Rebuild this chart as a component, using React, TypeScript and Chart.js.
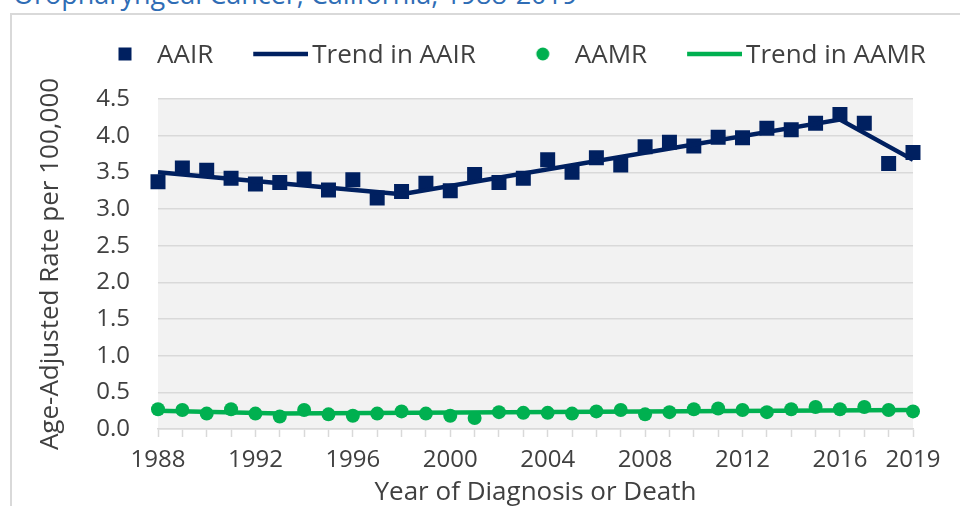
import React, { useEffect, useRef } from 'react';
import { Chart, registerables } from 'chart.js';

Chart.register(...registerables);

const years = [
  '1988', '1989', '1990', '1991', '1992', '1993', '1994', '1995',
  '1996', '1997', '1998', '1999', '2000', '2001', '2002', '2003',
  '2004', '2005', '2006', '2007', '2008', '2009', '2010', '2011',
  '2012', '2013', '2014', '2015', '2016', '2017', '2018', '2019',
];

const aair = [
  3.37, 3.56, 3.53, 3.42, 3.34, 3.36, 3.41, 3.26,
  3.40, 3.15, 3.24, 3.35, 3.25, 3.47, 3.36, 3.42,
  3.67, 3.50, 3.70, 3.60, 3.85, 3.91, 3.86, 3.98,
  3.97, 4.10, 4.08, 4.17, 4.29, 4.17, 3.62, 3.77,
];

const aamr = [
  0.27, 0.26, 0.21, 0.27, 0.21, 0.17, 0.26, 0.20,
  0.18, 0.21, 0.24, 0.21, 0.18, 0.15, 0.23, 0.22,
  0.22, 0.21, 0.24, 0.26, 0.20, 0.23, 0.27, 0.28,
  0.26, 0.23, 0.27, 0.30, 0.27, 0.30, 0.26, 0.24,
];

// Joinpoint trend values (only at the joinpoints; segments are straight lines between them)
const trendAair = [
  3.50, null, null, null, null, null, null, null,
  null, null, 3.20, null, null, null, null, null,
  null, null, null, null, null, null, null, null,
  null, null, null, null, 4.22, null, null, 3.67,
];

const trendAamr = [
  0.25, null, null, null, null, 0.21, null, null,
  null, null, null, null, null, null, null, null,
  null, null, null, null, null, null, null, null,
  null, null, null, null, null, null, null, 0.26,
];

const seriesNames = ['AAIR', 'Trend in AAIR', 'AAMR', 'Trend in AAMR'];
const yTicks = ['0.0', '0.5', '1.0', '1.5', '2.0', '2.5', '3.0', '3.5', '4.0', '4.5'];

const NAVY = '#002060';
const GREEN = '#00B050';
const TEXT = '#404040';
const GRID = '#D9D9D9';
const FONT = "'Open Sans', sans-serif";

function makeIcon(draw: (g: CanvasRenderingContext2D) => void): HTMLCanvasElement {
  const c = document.createElement('canvas');
  c.width = 84;
  c.height = 26;
  const g = c.getContext('2d') as CanvasRenderingContext2D;
  draw(g);
  return c;
}

export default function App() {
  const ref = useRef<HTMLCanvasElement>(null);

  useEffect(() => {
    const canvas = ref.current;
    if (!canvas) return;

    const lineIcon = (color: string) =>
      makeIcon((g) => {
        g.strokeStyle = color;
        g.lineWidth = 4.5;
        g.beginPath();
        g.moveTo(29, 11);
        g.lineTo(84, 11);
        g.stroke();
      });
    const icons = [
      makeIcon((g) => {
        g.fillStyle = NAVY;
        g.fillRect(56 - 6.5, 11 - 6.5, 13, 13);
      }),
      lineIcon(NAVY),
      makeIcon((g) => {
        g.fillStyle = GREEN;
        g.beginPath();
        g.arc(56, 11, 6.5, 0, Math.PI * 2);
        g.fill();
      }),
      lineIcon(GREEN),
    ];

    const plotBg = {
      id: 'plotBg',
      beforeDraw(chart: any) {
        const { ctx, chartArea: a } = chart;
        ctx.save();
        ctx.fillStyle = '#F2F2F2';
        ctx.fillRect(a.left, a.top, a.right - a.left, a.bottom - a.top);
        ctx.restore();
      },
    };

    const chart = new Chart(canvas, {
      type: 'line',
      data: {
        labels: years,
        datasets: [
          {
            label: seriesNames[0],
            data: aair,
            showLine: false,
            pointStyle: 'rect',
            pointRadius: 10.6,
            pointHoverRadius: 10.6,
            pointBorderWidth: 0,
            backgroundColor: NAVY,
            borderColor: NAVY,
            order: 1,
          },
          {
            label: seriesNames[1],
            data: trendAair,
            spanGaps: true,
            borderColor: NAVY,
            backgroundColor: NAVY,
            borderWidth: 4.5,
            pointRadius: 0,
            pointHoverRadius: 0,
            order: 0,
          },
          {
            label: seriesNames[2],
            data: aamr,
            showLine: false,
            pointStyle: 'circle',
            pointRadius: 7,
            pointHoverRadius: 7,
            pointBorderWidth: 0,
            backgroundColor: GREEN,
            borderColor: GREEN,
            order: 1,
          },
          {
            label: seriesNames[3],
            data: trendAamr,
            spanGaps: true,
            borderColor: GREEN,
            backgroundColor: GREEN,
            borderWidth: 4.5,
            pointRadius: 0,
            pointHoverRadius: 0,
            order: 0,
          },
        ],
      },
      options: {
        animation: false,
        responsive: false,
        devicePixelRatio: 1,
        layout: { padding: { left: 58, right: 0, top: 23, bottom: 0 } },
        plugins: {
          tooltip: { enabled: false },
          legend: {
            position: 'top',
            align: 'start',
            labels: {
              usePointStyle: true,
              pointStyleWidth: 66,
              padding: 20,
              color: TEXT,
              font: { family: FONT, size: 26 },
              generateLabels: () =>
                seriesNames.map((t, i) => ({
                  text: t,
                  pointStyle: icons[i] as any,
                  datasetIndex: i,
                  hidden: false,
                  fillStyle: 'rgba(0,0,0,0)',
                  strokeStyle: 'rgba(0,0,0,0)',
                  lineWidth: 0,
                  fontColor: TEXT,
                })),
            },
          },
        },
        scales: {
          x: {
            offset: false,
            grid: {
              display: true,
              drawOnChartArea: false,
              drawTicks: true,
              tickLength: 8,
              tickColor: GRID,
              tickWidth: 1.5,
            },
            border: { display: true, color: GRID, width: 1.5 },
            ticks: {
              autoSkip: false,
              maxRotation: 0,
              minRotation: 0,
              padding: 9,
              color: TEXT,
              font: { family: FONT, size: 24 },
              callback: (_v: any, i: number) =>
                i % 4 === 0 || i === years.length - 1 ? years[i] : '',
            },
            title: {
              display: true,
              text: 'Year of Diagnosis or Death',
              color: TEXT,
              font: { family: FONT, size: 26 },
              padding: { top: 0, bottom: -2.3 },
            },
            afterFit: (s: any) => {
              s.height = 77;
            },
          },
          xTopSpace: {
            type: 'category',
            position: 'top',
            display: true,
            grid: { display: false, drawTicks: false },
            border: { display: false },
            ticks: { display: false },
            afterFit: (s: any) => {
              s.height = 20;
            },
          },
          y: {
            min: 0,
            max: 4.5,
            ticks: {
              stepSize: 0.5,
              padding: 28,
              color: TEXT,
              font: { family: FONT, size: 24 },
              callback: (v: any) => {
                const idx = Math.round(Number(v) / 0.5);
                return yTicks[idx] ?? Number(v).toFixed(1);
              },
            },
            grid: { color: GRID, lineWidth: 1.5, drawTicks: false },
            border: { display: false },
            title: {
              display: true,
              text: 'Age-Adjusted Rate per 100,000',
              color: TEXT,
              font: { family: FONT, size: 26 },
              padding: { top: -22.6, bottom: 0 },
            },
            afterFit: (s: any) => {
              s.width = 100;
            },
          },
          yRightSpace: {
            type: 'linear',
            position: 'right',
            display: true,
            grid: { display: false, drawTicks: false },
            border: { display: false },
            ticks: { display: false },
            afterFit: (s: any) => {
              s.width = 47;
            },
          },
        },
      },
      plugins: [plotBg],
    } as any);

    return () => chart.destroy();
  }, []);

  return (
    <div
      style={{
        position: 'fixed',
        left: 0,
        top: 0,
        width: 960,
        height: 506,
        overflow: 'hidden',
        background: '#ffffff',
      }}
    >
      <div
        style={{
          position: 'absolute',
          left: 13,
          top: -21.5,
          fontFamily: FONT,
          fontSize: 27,
          lineHeight: '30px',
          color: '#2F6DB5',
          whiteSpace: 'nowrap',
        }}
      >
        Oropharyngeal Cancer, California, 1988-2019
      </div>
      <div
        style={{
          position: 'absolute',
          left: 10,
          top: 13,
          width: 1000,
          height: 600,
          borderLeft: '2px solid #D9D9D9',
          borderTop: '2px solid #D9D9D9',
        }}
      />
      <canvas
        ref={ref}
        width={960}
        height={506}
        style={{ position: 'absolute', left: 0, top: 0, width: 960, height: 506 }}
      />
    </div>
  );
}
